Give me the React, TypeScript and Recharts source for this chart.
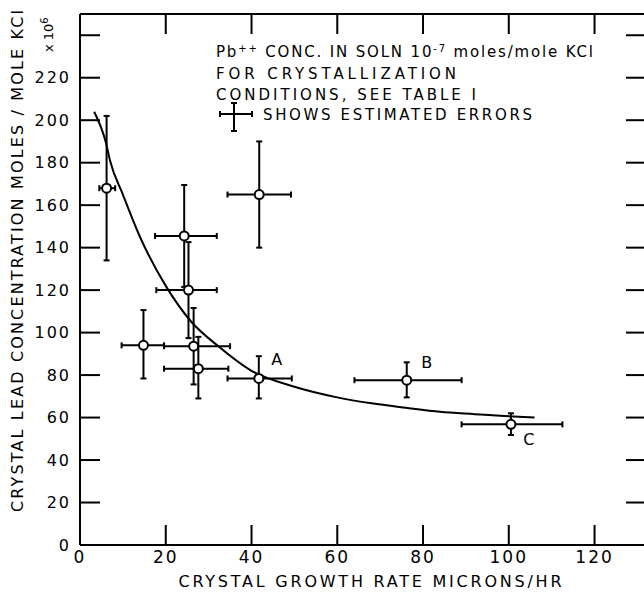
import React from 'react';
import { ComposedChart, Scatter, Line, XAxis, YAxis, ErrorBar } from 'recharts';

// measured points (growth rate microns/hr, Pb conc x10^6)
const growthRate = [6.2, 24.3, 25.3, 14.8, 26.5, 27.6, 41.8, 41.7, 76.2, 100.5];
const leadConc = [168, 145.5, 120, 94, 93.6, 83, 165, 78.4, 77.6, 56.8];
const rateErrLow = [1.7, 6.8, 7.5, 5.1, 6.9, 8, 7.4, 7.3, 12.2, 11.5];
const rateErrHigh = [2.0, 7.6, 6.6, 4.8, 8.5, 7, 7.4, 7.7, 12.8, 12];
const concErrLow = [34, 24, 22.6, 15.6, 18, 14, 25, 9.4, 8.1, 5];
const concErrHigh = [34, 24, 22.6, 16.6, 18, 15, 25, 10.5, 8.4, 5.2];
const pointLabels = ['', '', '', '', '', '', '', 'A', 'B', 'C'];

// hand-drawn trend curve
const curveRate = [3.3, 6.1, 7, 10, 14, 20, 26, 32, 40, 50, 60, 68, 76, 84, 92, 99, 106];
const curveConc = [204, 189, 181, 165, 145, 122, 105, 94, 82, 74.5, 69.5, 66.7, 64.6, 62.7, 61.6, 60.7, 60];

const xTicks = [0, 20, 40, 60, 80, 100, 120];
const yTicks = [0, 20, 40, 60, 80, 100, 120, 140, 160, 180, 200, 220, 240];

const points = growthRate.map((x, i) => ({
  x,
  y: leadConc[i],
  xErr: [rateErrLow[i], rateErrHigh[i]],
  yErr: [concErrLow[i], concErrHigh[i]],
  label: pointLabels[i],
}));
const curve = curveRate.map((x, i) => ({ x, y: curveConc[i] }));

const font = '"DejaVu Sans", sans-serif';
const labelOffset: Record<string, [number, number]> = { A: [18, -13], B: [20, -12], C: [18, 21] };

const PointShape = (props: any) => {
  const { cx, cy, payload } = props;
  const off = labelOffset[payload.label];
  return (
    <g>
      <circle cx={cx} cy={cy} r={4.5} fill="#fff" stroke="#000" strokeWidth={2} />
      {off && (
        <text x={cx + off[0]} y={cy + off[1]} textAnchor="middle" fontSize={16} fontFamily={font} fill="#000">
          {payload.label}
        </text>
      )}
    </g>
  );
};

const axisLine = { stroke: '#000', strokeWidth: 2 };
const tickText = { fill: '#000', fontSize: 16, fontFamily: font, letterSpacing: 2 };

export default function App() {
  return (
    <div style={{ position: 'absolute', left: 0, top: 0, width: 644, height: 593, overflow: 'hidden', background: '#fff' }}>
      <ComposedChart width={666} height={593} margin={{ top: 4, right: 0, bottom: 0, left: 0 }}>
        <XAxis
          xAxisId="b"
          type="number"
          dataKey="x"
          domain={[0, 132]}
          ticks={xTicks}
          height={48}
          tickSize={-20}
          tickMargin={26}
          axisLine={axisLine}
          tickLine={axisLine}
          tick={{ ...tickText, fontSize: 17 }}
          allowDataOverflow
        />
        <XAxis
          xAxisId="t"
          orientation="top"
          type="number"
          dataKey="x"
          domain={[0, 132]}
          ticks={xTicks}
          height={10}
          tickSize={-20}
          axisLine={axisLine}
          tickLine={axisLine}
          tickFormatter={() => ''}
          allowDataOverflow
        />
        <YAxis
          yAxisId="l"
          type="number"
          dataKey="y"
          domain={[0, 250]}
          ticks={yTicks}
          width={80}
          tickSize={-20}
          tickMargin={29}
          axisLine={axisLine}
          tickLine={axisLine}
          tick={tickText}
          tickFormatter={(v: number) => (v === 240 ? '' : String(v))}
          allowDataOverflow
        />
        <YAxis
          yAxisId="r"
          orientation="right"
          type="number"
          domain={[0, 250]}
          ticks={yTicks}
          width={20}
          tickSize={-20}
          axisLine={axisLine}
          tickLine={axisLine}
          tickFormatter={() => ''}
          allowDataOverflow
        />
        <Line
          xAxisId="b"
          yAxisId="l"
          data={curve}
          dataKey="y"
          type="monotone"
          dot={false}
          stroke="#000"
          strokeWidth={2}
          isAnimationActive={false}
        />
        <Scatter xAxisId="b" yAxisId="l" data={points} shape={PointShape} isAnimationActive={false}>
          <ErrorBar dataKey="xErr" direction="x" width={3} stroke="#000" strokeWidth={2} />
          <ErrorBar dataKey="yErr" direction="y" width={3} stroke="#000" strokeWidth={2} />
        </Scatter>
      </ComposedChart>
      <svg width={644} height={593} style={{ position: 'absolute', left: 0, top: 0, pointerEvents: 'none' }}>
        <g fontFamily={font} fill="#000">
          <text x={17} y={261} transform="rotate(-90 17 261)" textAnchor="middle" dominantBaseline="central" fontSize={16} textLength={502} lengthAdjust="spacing">
            CRYSTAL LEAD CONCENTRATION MOLES / MOLE KCl
          </text>
          <text x={53} y={52} transform="rotate(-90 53 52)" fontSize={13}>
            x 10<tspan baselineShift="super" fontSize={10}>6</tspan>
          </text>
          <text x={370} y={587} textAnchor="middle" fontSize={16} textLength={383} lengthAdjust="spacing">
            CRYSTAL GROWTH RATE MICRONS/HR
          </text>
          <text x={216} y={57} fontSize={15} textLength={377} lengthAdjust="spacing">
            Pb<tspan baselineShift="super" fontSize={10}>++</tspan> CONC. IN SOLN 10<tspan baselineShift="super" fontSize={10}>-7</tspan> moles/mole KCl
          </text>
          <text x={216} y={79} fontSize={15} textLength={240} lengthAdjust="spacing">
            FOR  CRYSTALLIZATION
          </text>
          <text x={216} y={100} fontSize={15} textLength={260} lengthAdjust="spacing">
            CONDITIONS, SEE TABLE I
          </text>
          <text x={263} y={120} fontSize={15} textLength={269} lengthAdjust="spacing">
            SHOWS ESTIMATED ERRORS
          </text>
        </g>
        <g stroke="#000" strokeWidth={2}>
          <line x1={220} y1={114} x2={252} y2={114} />
          <line x1={220} y1={111} x2={220} y2={117} />
          <line x1={252} y1={111} x2={252} y2={117} />
          <line x1={234} y1={103} x2={234} y2={131} />
          <line x1={231} y1={103} x2={237} y2={103} />
          <line x1={231} y1={131} x2={237} y2={131} />
        </g>
      </svg>
    </div>
  );
}
